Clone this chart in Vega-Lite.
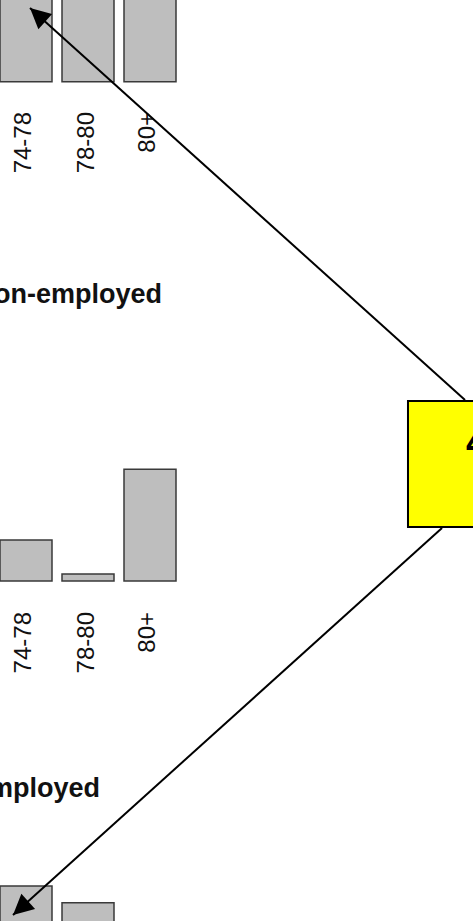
{
  "$schema": "https://vega.github.io/schema/vega-lite/v6.json",
  "width": 473,
  "height": 921,
  "padding": 0,
  "autosize": {"type": "none"},
  "background": "white",
  "config": {"view": {"stroke": null}, "scale": {"continuousPadding": 0}},
  "datasets": {
    "bars": [
      {"panel": "top", "group": "74-78", "pos": 1, "top": -1, "base": 1.32},
      {"panel": "top", "group": "78-80", "pos": 2, "top": -1, "base": 1.32},
      {"panel": "top", "group": "80+", "pos": 3, "top": -1, "base": 1.32},
      {"panel": "Non-employed", "group": "74-78", "pos": 1, "top": 8.71, "base": 9.37},
      {"panel": "Non-employed", "group": "78-80", "pos": 2, "top": 9.26, "base": 9.37},
      {"panel": "Non-employed", "group": "80+", "pos": 3, "top": 7.57, "base": 9.37},
      {"panel": "Employed", "group": "a", "pos": 1, "top": 14.29, "base": 16},
      {"panel": "Employed", "group": "b", "pos": 2, "top": 14.56, "base": 16}
    ],
    "labels": [
      {"panel": "top", "group": "74-78", "pos": 0.96, "y": 1.806},
      {"panel": "top", "group": "78-80", "pos": 1.98, "y": 1.806},
      {"panel": "top", "group": "80+", "pos": 2.97, "y": 1.806},
      {"panel": "Non-employed", "group": "74-78", "pos": 0.96, "y": 9.871},
      {"panel": "Non-employed", "group": "78-80", "pos": 1.98, "y": 9.871},
      {"panel": "Non-employed", "group": "80+", "pos": 2.97, "y": 9.871}
    ],
    "titles": [
      {"title": "Non-employed", "x": 3.194, "y": 4.887},
      {"title": "Employed", "x": 2.193, "y": 12.863}
    ],
    "box": [
      {"label": "4", "x": 7.161, "x2": 9.5, "y": 6.468, "y2": 8.5, "tx": 8.097, "ty": 7.339}
    ],
    "arrows": [
      {"id": "up", "x": 8.081, "y": 6.452, "x2": 1.0645, "y2": 0.129},
      {"id": "down", "x": 7.710, "y": 8.516, "x2": 0.7903, "y2": 14.758}
    ]
  },
  "layer": [
    {
      "data": {"name": "bars"},
      "mark": {"type": "bar", "width": 52, "fill": "#BEBEBE", "stroke": "#3a3a3a", "strokeWidth": 1.5, "clip": true},
      "encoding": {
        "x": {"field": "pos", "type": "quantitative", "axis": null, "scale": {"domain": [0.5806, 8.2097], "nice": false, "zero": false, "padding": 0}},
        "y": {"field": "top", "type": "quantitative", "axis": null, "scale": {"domain": [0, 14.855], "reverse": true, "nice": false, "zero": false, "padding": 0}},
        "y2": {"field": "base"}
      }
    },
    {
      "data": {"name": "labels"},
      "mark": {"type": "text", "angle": 270, "align": "right", "baseline": "middle", "font": "Liberation Sans", "fontSize": 24, "color": "#111", "clip": true},
      "encoding": {
        "x": {"field": "pos", "type": "quantitative", "axis": null, "scale": {"domain": [0.5806, 8.2097], "nice": false, "zero": false, "padding": 0}},
        "y": {"field": "y", "type": "quantitative", "axis": null, "scale": {"domain": [0, 14.855], "reverse": true, "nice": false, "zero": false, "padding": 0}},
        "text": {"field": "group"}
      }
    },
    {
      "data": {"name": "titles"},
      "mark": {"type": "text", "align": "right", "baseline": "alphabetic", "font": "Liberation Sans", "fontWeight": "bold", "fontSize": 27, "color": "#111", "clip": true},
      "encoding": {
        "x": {"field": "x", "type": "quantitative", "axis": null, "scale": {"domain": [0.5806, 8.2097], "nice": false, "zero": false, "padding": 0}},
        "y": {"field": "y", "type": "quantitative", "axis": null, "scale": {"domain": [0, 14.855], "reverse": true, "nice": false, "zero": false, "padding": 0}},
        "text": {"field": "title"}
      }
    },
    {
      "data": {"name": "box"},
      "mark": {"type": "rect", "fill": "#FFFF00", "stroke": "black", "strokeWidth": 2, "clip": true},
      "encoding": {
        "x": {"field": "x", "type": "quantitative", "axis": null, "scale": {"domain": [0.5806, 8.2097], "nice": false, "zero": false, "padding": 0}},
        "x2": {"field": "x2"},
        "y": {"field": "y", "type": "quantitative", "axis": null, "scale": {"domain": [0, 14.855], "reverse": true, "nice": false, "zero": false, "padding": 0}},
        "y2": {"field": "y2"}
      }
    },
    {
      "data": {"name": "box"},
      "mark": {"type": "text", "align": "left", "baseline": "alphabetic", "font": "Liberation Sans", "fontWeight": "bold", "fontSize": 38, "color": "black", "clip": true},
      "encoding": {
        "x": {"field": "tx", "type": "quantitative", "axis": null, "scale": {"domain": [0.5806, 8.2097], "nice": false, "zero": false, "padding": 0}},
        "y": {"field": "ty", "type": "quantitative", "axis": null, "scale": {"domain": [0, 14.855], "reverse": true, "nice": false, "zero": false, "padding": 0}},
        "text": {"field": "label"}
      }
    },
    {
      "data": {"name": "arrows"},
      "mark": {"type": "rule", "color": "black", "strokeWidth": 2, "clip": true},
      "encoding": {
        "x": {"field": "x", "type": "quantitative", "axis": null, "scale": {"domain": [0.5806, 8.2097], "nice": false, "zero": false, "padding": 0}},
        "x2": {"field": "x2"},
        "y": {"field": "y", "type": "quantitative", "axis": null, "scale": {"domain": [0, 14.855], "reverse": true, "nice": false, "zero": false, "padding": 0}},
        "y2": {"field": "y2"}
      }
    },
    {
      "data": {"name": "arrows"},
      "transform": [{"filter": "datum.id == 'up'"}],
      "mark": {"type": "point", "shape": "M0,0L-1,2L1,2Z", "size": 420, "angle": 312, "filled": true, "color": "black", "opacity": 1, "strokeWidth": 0, "clip": true},
      "encoding": {
        "x": {"field": "x2", "type": "quantitative", "axis": null, "scale": {"domain": [0.5806, 8.2097], "nice": false, "zero": false, "padding": 0}},
        "y": {"field": "y2", "type": "quantitative", "axis": null, "scale": {"domain": [0, 14.855], "reverse": true, "nice": false, "zero": false, "padding": 0}}
      }
    },
    {
      "data": {"name": "arrows"},
      "transform": [{"filter": "datum.id == 'down'"}],
      "mark": {"type": "point", "shape": "M0,0L-1,2L1,2Z", "size": 420, "angle": 228, "filled": true, "color": "black", "opacity": 1, "strokeWidth": 0, "clip": true},
      "encoding": {
        "x": {"field": "x2", "type": "quantitative", "axis": null, "scale": {"domain": [0.5806, 8.2097], "nice": false, "zero": false, "padding": 0}},
        "y": {"field": "y2", "type": "quantitative", "axis": null, "scale": {"domain": [0, 14.855], "reverse": true, "nice": false, "zero": false, "padding": 0}}
      }
    }
  ]
}
